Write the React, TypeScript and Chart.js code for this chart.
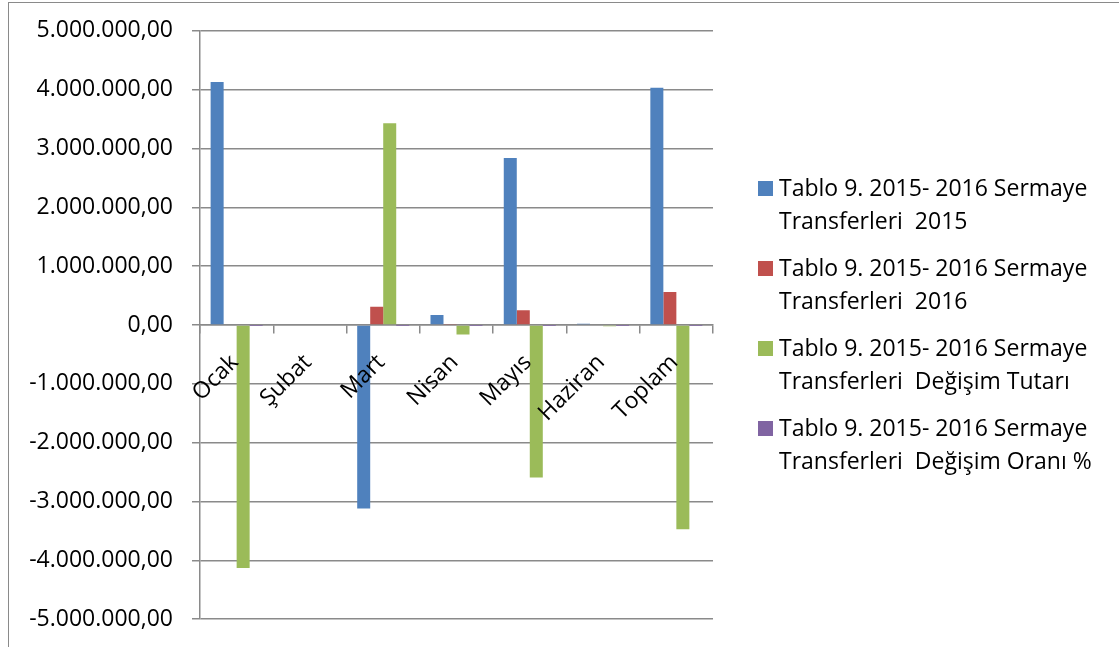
import { useEffect, useRef } from 'react';
import Chart from 'chart.js/auto';

const categories = ['Ocak', 'Şubat', 'Mart', 'Nisan', 'Mayıs', 'Haziran', 'Toplam'];

const seriesNames = [
    'Tablo 9. 2015- 2016 Sermaye\nTransferleri  2015',
    'Tablo 9. 2015- 2016 Sermaye\nTransferleri  2016',
    'Tablo 9. 2015- 2016 Sermaye\nTransferleri  Değişim Tutarı',
    'Tablo 9. 2015- 2016 Sermaye\nTransferleri  Değişim Oranı %',
];

const values2015 = [4130000, 0, -3120000, 170000, 2840000, 20000, 4030000];
const values2016 = [0, 0, 310000, 10000, 250000, 0, 560000];
const changeAmount = [-4130000, 0, 3430000, -160000, -2590000, -20000, -3470000];
const changeRate = [-100, 0, -110, -94, -91, -100, -86];

const colors = ['#4f81bd', '#c0504d', '#9bbb59', '#8064a2'];

const yMin = -5000000;
const yMax = 5000000;
const yStep = 1000000;

const FONT = '"Open Sans", "Noto Sans", sans-serif';

function formatTr(v: number) {
    const s = Math.round(Math.abs(v)).toString().replace(/\B(?=(\d{3})+(?!\d))/g, '.');
    return (v < 0 ? '-' : '') + s + ',00';
}

export default function App() {
    const canvasRef = useRef<HTMLCanvasElement | null>(null);
    const chartRef = useRef<Chart | null>(null);

    useEffect(() => {
        if (!canvasRef.current) return;
        chartRef.current?.destroy();
        const series = [values2015, values2016, changeAmount, changeRate];
        chartRef.current = new Chart(canvasRef.current, {
            type: 'bar',
            data: {
                labels: categories,
                datasets: series.map((data, i) => ({
                    label: seriesNames[i],
                    data,
                    backgroundColor: colors[i],
                    barPercentage: 1,
                    categoryPercentage: 0.71,
                })),
            },
            options: {
                animation: false,
                responsive: true,
                maintainAspectRatio: false,
                layout: { padding: { top: 0, bottom: 0, left: 0, right: 401 } },
                plugins: {
                    legend: { display: false },
                    tooltip: { enabled: false },
                },
                scales: {
                    x: {
                        position: { y: 0 },
                        grid: {
                            drawOnChartArea: false,
                            drawTicks: true,
                            tickLength: 8,
                            color: '#8a8a8a',
                            lineWidth: 1.5,
                        },
                        border: { color: '#8a8a8a', width: 1.5 },
                        ticks: {
                            z: 1,
                            autoSkip: false,
                            minRotation: 45,
                            maxRotation: 45,
                            padding: 16,
                            labelOffset: -2,
                            color: '#000',
                            font: { family: FONT, size: 23 },
                        },
                    },
                    y: {
                        min: yMin,
                        max: yMax,
                        afterFit: (scale: any) => {
                            scale.width = 191;
                        },
                        grid: {
                            color: '#8a8a8a',
                            lineWidth: 1.5,
                            tickLength: 8,
                        },
                        border: { color: '#8a8a8a', width: 1.5 },
                        ticks: {
                            stepSize: yStep,
                            padding: 19,
                            color: '#000',
                            font: { family: FONT, size: 23 },
                            callback: (v: any) => formatTr(Number(v)),
                        },
                    },
                },
            },
        });
        return () => chartRef.current?.destroy();
    }, []);

    return (
        <div
            style={{
                position: 'fixed',
                left: 8,
                top: 2,
                right: 0,
                bottom: 0,
                overflow: 'hidden',
                borderTop: '1.5px solid #8a8a8a',
                borderLeft: '1.5px solid #8a8a8a',
                background: '#fff',
                fontFamily: FONT,
            }}
        >
            <div style={{ position: 'absolute', left: 0, top: -5, width: 1105, height: 654 }}>
                <canvas ref={canvasRef} />
            </div>
            {seriesNames.map((name, i) => (
                <div key={i}>
                    <div
                        style={{
                            position: 'absolute',
                            left: 749,
                            top: 178 + 80 * i,
                            width: 15,
                            height: 15,
                            background: colors[i],
                        }}
                    />
                    <div
                        style={{
                            position: 'absolute',
                            left: 770,
                            top: 168 + 80 * i,
                            fontSize: 23,
                            lineHeight: '33px',
                            whiteSpace: 'pre',
                            color: '#000',
                        }}
                    >
                        {name}
                    </div>
                </div>
            ))}
        </div>
    );
}
